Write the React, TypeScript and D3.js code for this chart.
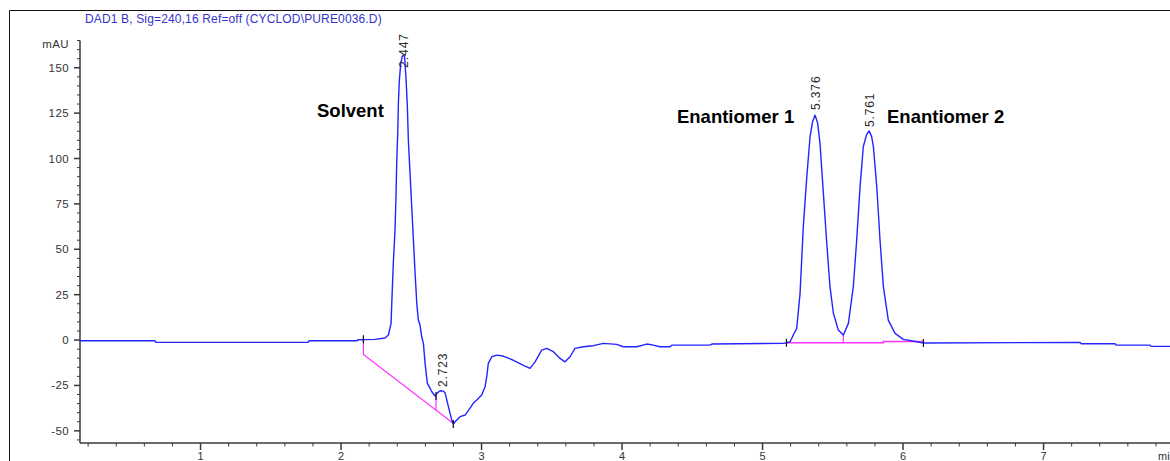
import React from "react";
import * as d3 from "d3";

const width = 1170;
const height = 461;
const margin = { top: 40.5, right: 0, bottom: 18, left: 80 };

const title = "DAD1 B, Sig=240,16 Ref=off (CYCLOD\\PURE0036.D)";
const yUnit = "mAU";
const xUnit = "min";

// retention time (min) / absorbance (mAU)
const traceTime = [
  0.142, 0.676, 0.683, 1.765, 1.772, 2.114, 2.121, 2.242, 2.313, 2.337,
  2.356, 2.361, 2.372, 2.384, 2.391, 2.396, 2.404, 2.408, 2.415, 2.425,
  2.436, 2.444, 2.452, 2.463, 2.472, 2.479, 2.491, 2.503, 2.515, 2.527,
  2.539, 2.55, 2.562, 2.574, 2.586, 2.598, 2.614, 2.646, 2.669, 2.683,
  2.705, 2.726, 2.74, 2.764, 2.788, 2.799, 2.811, 2.847, 2.883, 2.918,
  2.942, 2.966, 3.001, 3.025, 3.037, 3.048, 3.073, 3.108, 3.153, 3.224,
  3.295, 3.345, 3.381, 3.428, 3.464, 3.511, 3.559, 3.594, 3.63, 3.665,
  3.725, 3.796, 3.867, 3.962, 4.009, 4.105, 4.176, 4.223, 4.27, 4.342,
  4.354, 4.626, 4.639, 5.148, 5.174, 5.196, 5.219, 5.243, 5.267, 5.29,
  5.315, 5.338, 5.356, 5.374, 5.392, 5.409, 5.433, 5.457, 5.48, 5.504,
  5.539, 5.575, 5.611, 5.646, 5.67, 5.694, 5.717, 5.74, 5.758, 5.776,
  5.789, 5.813, 5.836, 5.86, 5.895, 5.943, 6.002, 6.098, 6.145, 7.26,
  7.267, 7.509, 7.516, 7.758, 7.765, 7.9,
];
const traceMAU = [
  -0.4, -0.4, -1.3, -1.3, -0.4, -0.4, 0.2, 0.4, 1.1, 2.8,
  9.2, 20.2, 42.2, 60.6, 78.9, 97.3, 115.7, 130.4, 143.2, 152.4,
  156.2, 157.0, 156.2, 143.2, 128.5, 110.2, 91.8, 73.4, 55.1, 36.8,
  20.2, 11.0, 8.3, 1.8, -1.7, -12.7, -23.7, -28.5, -30.8, -29.2,
  -27.9, -28.1, -29.0, -36.7, -44.1, -46.3, -45.0, -42.2, -41.3, -37.5,
  -34.7, -33.0, -30.3, -25.7, -20.2, -12.8, -9.2, -8.3, -8.8, -11.0,
  -13.8, -15.6, -12.0, -5.5, -4.6, -6.4, -10.1, -12.0, -9.2, -4.6,
  -3.7, -3.1, -1.8, -2.4, -3.7, -3.7, -2.2, -2.8, -3.7, -3.7,
  -2.8, -2.8, -2.2, -1.8, -1.5, -0.9, 2.8, 6.4, 25.7, 62.4,
  90.0, 112.0, 120.2, 123.9, 119.5, 108.3, 80.8, 53.3, 29.4, 14.9,
  5.5, 2.8, 9.2, 29.4, 55.1, 84.4, 106.5, 113.0, 115.2, 112.2,
  106.5, 84.4, 55.1, 29.4, 11.0, 3.7, 0.4, -0.9, -1.6, -1.3,
  -2.0, -2.0, -2.8, -2.8, -3.5, -3.5,
];

// integration baselines (magenta)
const baselineSolventTime = [2.159, 2.159, 2.8];
const baselineSolventMAU = [1.1, -7.9, -46.0];
const baselineEnantTime = [5.17, 5.86, 5.86, 6.145];
const baselineEnantMAU = [-1.5, -1.5, -0.8, -0.8];
const dropLineTime = [2.676, 5.575];
const dropLineFrom = [-38.6, -1.5];
const dropLineTo = [-30.8, 2.8];

// peak start/end markers
const markerTime = [2.159, 2.676, 2.799, 5.17, 6.145];
const markerMAU = [0.4, -30.8, -46.3, -1.5, -1.6];

// retention time labels
const peakTimes = [2.447, 2.723, 5.376, 5.761];
const peakLabelMAU = [150, -25.9, 126.7, 117.3];

// compound annotations
const compoundNames = ["Solvent", "Enantiomer 1", "Enantiomer 2"];
const compoundTime = [1.829, 4.391, 5.886];
const compoundMAU = [122.8, 119.5, 119.5];

const yMajorTicks = [-50, -25, 0, 25, 50, 75, 100, 125, 150];
const xMajorTicks = [1, 2, 3, 4, 5, 6, 7];

const xScale = d3
  .scaleLinear()
  .domain([0.142, 7.9])
  .range([margin.left, width - margin.right]);
const yScale = d3
  .scaleLinear()
  .domain([-56.7, 165])
  .range([height - margin.bottom, margin.top]);

const yMinorTicks = d3.range(-55, 166, 5).filter((v) => v % 25 !== 0);
const xMinorTicks = d3
  .range(1, 40)
  .map((i) => i / 5)
  .filter((t) => Math.abs(t - Math.round(t)) > 0.01 && t > 0.142);

const axisColor = "#3a3a3a";
const font = "'Liberation Sans', Arial, sans-serif";

function linePath(ts: number[], vs: number[]) {
  const line = d3
    .line<number>()
    .x((d, i) => xScale(ts[i]))
    .y((d) => yScale(d));
  return line(vs) || "";
}

export default function App() {
  const y0 = height - margin.bottom;
  return (
    <div style={{ position: "fixed", left: 0, top: 0 }}>
      <svg width={width} height={height} style={{ display: "block", background: "#fff" }}>
        {/* frame */}
        <line x1={9.5} y1={10.5} x2={width} y2={10.5} stroke="#111" strokeWidth={1} />
        <line x1={9.5} y1={10.5} x2={9.5} y2={height} stroke="#111" strokeWidth={1} />

        <text x={85} y={23} fontFamily={font} fontSize={12} letterSpacing={0.15} fill="#3333cc">
          {title}
        </text>

        {/* y axis */}
        <line x1={margin.left} y1={margin.top} x2={margin.left} y2={y0} stroke={axisColor} strokeWidth={1.5} />
        {yMinorTicks.map((v) => (
          <line key={"ym" + v} x1={margin.left - 3} x2={margin.left} y1={yScale(v)} y2={yScale(v)} stroke={axisColor} />
        ))}
        {yMajorTicks.map((v) => (
          <g key={"y" + v}>
            <line x1={margin.left - 6} x2={margin.left} y1={yScale(v)} y2={yScale(v)} stroke={axisColor} strokeWidth={1.5} />
            <text
              x={margin.left - 11}
              y={yScale(v)}
              dy="0.35em"
              textAnchor="end"
              fontFamily={font}
              fontSize={11.5}
              letterSpacing={0.4}
              fill="#333"
            >
              {v}
            </text>
          </g>
        ))}
        <text x={margin.left - 11} y={yScale(163)} dy="0.35em" textAnchor="end" fontFamily={font} fontSize={11.5} letterSpacing={0.4} fill="#333">
          {yUnit}
        </text>

        {/* x axis */}
        <line x1={margin.left} y1={y0} x2={width} y2={y0} stroke={axisColor} strokeWidth={1.5} />
        {xMinorTicks.map((t) => (
          <line key={"xm" + t} x1={xScale(t)} x2={xScale(t)} y1={y0} y2={y0 + 3.5} stroke={axisColor} />
        ))}
        {xMajorTicks.map((t) => (
          <g key={"x" + t}>
            <line x1={xScale(t)} x2={xScale(t)} y1={y0} y2={y0 + 7} stroke={axisColor} strokeWidth={1.5} />
            <text x={xScale(t)} y={y0 + 17} textAnchor="middle" fontFamily={font} fontSize={11} fill="#333">
              {t}
            </text>
          </g>
        ))}
        <text x={1158} y={y0 + 17} fontFamily={font} fontSize={11} fill="#333">
          {xUnit}
        </text>

        {/* integration baselines */}
        <path d={linePath(baselineSolventTime, baselineSolventMAU)} fill="none" stroke="#ff33ff" strokeWidth={1.2} />
        <path d={linePath(baselineEnantTime, baselineEnantMAU)} fill="none" stroke="#ff33ff" strokeWidth={1.5} />
        {dropLineTime.map((t, i) => (
          <line key={"dl" + i} x1={xScale(t)} x2={xScale(t)} y1={yScale(dropLineFrom[i])} y2={yScale(dropLineTo[i])} stroke="#ff33ff" strokeWidth={1.2} />
        ))}

        {/* signal */}
        <path d={linePath(traceTime, traceMAU)} fill="none" stroke="#2424ff" strokeWidth={1.4} strokeLinejoin="round" />

        {markerTime.map((t, i) => (
          <line key={"mk" + i} x1={xScale(t)} x2={xScale(t)} y1={yScale(markerMAU[i]) - 4} y2={yScale(markerMAU[i]) + 4} stroke="#111" strokeWidth={1.2} />
        ))}

        {/* retention times */}
        {peakTimes.map((t, i) => (
          <text
            key={"pk" + t}
            transform={`translate(${xScale(t)},${yScale(peakLabelMAU[i])}) rotate(-90)`}
            dy="0.35em"
            fontFamily={font}
            fontSize={12}
            letterSpacing={0.9}
            fill="#2a2a2a"
          >
            {t.toFixed(3)}
          </text>
        ))}

        {compoundNames.map((name, i) => (
          <text
            key={name}
            x={xScale(compoundTime[i])}
            y={yScale(compoundMAU[i])}
            fontFamily={font}
            fontSize={18.5}
            fontWeight="bold"
            fill="#000"
          >
            {name}
          </text>
        ))}
      </svg>
    </div>
  );
}
